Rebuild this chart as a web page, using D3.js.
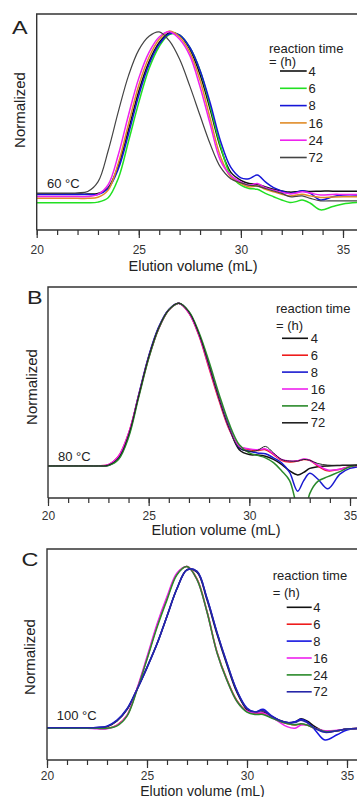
<!DOCTYPE html>
<html><head><meta charset="utf-8">
<script src="https://cdn.jsdelivr.net/npm/d3@7"></script>
<style>
body{margin:0;background:#fff;}
svg{display:block;}
text{font-family:"Liberation Sans",Arial,sans-serif;fill:#222;}
</style>
</head><body>
<svg id="chart" width="357" height="797"></svg>
<script>
// ---------- DATA ----------
const volumes = [20, 21, 22, 22.5, 23, 23.5, 24, 24.5, 25, 25.5, 26, 26.5, 27, 27.5, 28, 28.5, 29, 29.5, 30, 30.4, 30.8, 31.2, 31.6, 32, 32.4, 32.7, 33, 33.4, 33.9, 34.5, 35, 35.8];
const seriesLabels = ["4", "6", "8", "16", "24", "72"];
const tickLabels = [20, 25, 30, 35];
const panelLetters = ["A", "B", "C"];
const temperatures = ["60 °C", "80 °C", "100 °C"];

// Panel A (60 °C)
const a4  = [0.006,0.006,0.006,0.006,0.01,0.045,0.18,0.40,0.633,0.812,0.93,0.99,0.975,0.89,0.735,0.52,0.29,0.14,0.09,0.07,0.065,0.05,0.035,0.025,0.018,0.02,0.025,0.022,0.024,0.024,0.024,0.024];
const a6  = [-0.047,-0.047,-0.047,-0.047,-0.043,-0.016,0.103,0.33,0.565,0.77,0.906,0.979,0.975,0.90,0.76,0.54,0.30,0.12,0.06,0.04,0.035,0.01,-0.01,-0.03,-0.045,-0.04,-0.03,-0.05,-0.09,-0.07,-0.055,-0.045];
const a8  = [0.003,0.003,0.003,0.003,0.004,0.04,0.16,0.374,0.608,0.796,0.92,0.984,0.975,0.90,0.76,0.56,0.33,0.17,0.105,0.10,0.122,0.08,0.045,0.025,0.01,0.015,0.026,0.01,-0.03,-0.01,0.0,0.0];
const a16 = [-0.02,-0.02,-0.02,-0.02,-0.013,0.03,0.195,0.435,0.67,0.84,0.95,1.0,0.964,0.87,0.70,0.465,0.235,0.11,0.07,0.05,0.055,0.035,0.02,0.005,-0.005,0.0,0.005,-0.005,-0.015,-0.012,-0.01,-0.01];
const a24 = [-0.009,-0.009,-0.009,-0.009,0.004,0.063,0.247,0.49,0.713,0.87,0.964,0.996,0.95,0.85,0.66,0.43,0.21,0.12,0.08,0.06,0.07,0.045,0.03,0.015,0.008,0.012,0.02,0.012,0.0,0.004,0.004,0.004];
const a72 = [0.012,0.012,0.014,0.022,0.08,0.27,0.51,0.73,0.885,0.968,0.995,0.94,0.828,0.664,0.485,0.31,0.17,0.10,0.075,0.06,0.055,0.04,0.025,0.01,-0.01,-0.008,-0.005,-0.02,-0.035,-0.035,-0.035,-0.035];

// Panel B (80 °C)
const b4  = [0,0,0,0,0.004,0.05,0.19,0.43,0.67,0.85,0.96,1.0,0.945,0.81,0.62,0.415,0.235,0.10,0.07,0.068,0.06,0.04,0.01,-0.03,-0.055,-0.04,-0.015,-0.005,0.0,0.003,0.005,0.005];
const b6  = [0,0,0,0,0.008,0.06,0.2,0.43,0.665,0.845,0.958,1.0,0.94,0.80,0.60,0.40,0.225,0.12,0.10,0.095,0.10,0.07,0.035,0.025,0.03,0.04,0.035,0.0,-0.03,-0.02,-0.005,0.0];
const b8  = [0,0,0,0,0.004,0.045,0.185,0.435,0.675,0.855,0.962,1.0,0.945,0.81,0.62,0.42,0.24,0.11,0.09,0.08,0.075,0.05,0.02,-0.04,-0.155,-0.09,-0.045,-0.08,-0.14,-0.05,-0.015,0.0];
const b16 = [0,0,0,0,0.008,0.06,0.2,0.43,0.665,0.845,0.958,1.0,0.942,0.805,0.61,0.41,0.23,0.12,0.105,0.10,0.105,0.075,0.04,0.03,0.032,0.042,0.035,0.005,-0.025,-0.02,-0.005,0.002];
const b24 = [0,0,0,0,0.003,0.04,0.175,0.42,0.66,0.845,0.958,1.0,0.95,0.82,0.64,0.44,0.26,0.13,0.08,0.065,0.05,0.02,-0.03,-0.09,-0.26,-0.32,-0.17,-0.095,-0.066,-0.035,-0.005,0.006];
const b72 = [0,0,0,0,0.005,0.05,0.19,0.43,0.67,0.85,0.96,1.0,0.945,0.81,0.615,0.41,0.23,0.11,0.09,0.095,0.12,0.08,0.04,0.03,0.03,0.04,0.035,0.015,0.005,0.003,0.003,0.003];

// Panel C (100 °C)
const c4  = [0,0,0,0.003,0.01,0.045,0.115,0.24,0.375,0.52,0.69,0.86,0.975,0.96,0.79,0.58,0.39,0.22,0.115,0.095,0.10,0.075,0.05,0.035,0.04,0.058,0.045,0.01,-0.02,-0.015,-0.005,0.0];
const c6  = [0,0,0,0,0.0,0.02,0.08,0.24,0.43,0.63,0.80,0.95,0.995,0.92,0.72,0.47,0.30,0.17,0.105,0.092,0.092,0.07,0.045,0.03,0.02,0.025,0.02,0.0,-0.02,-0.015,-0.005,0.0];
const c8  = [0.003,0.003,0.003,0.005,0.013,0.05,0.12,0.24,0.375,0.52,0.69,0.86,0.975,0.965,0.80,0.59,0.40,0.23,0.125,0.10,0.117,0.08,0.05,0.035,0.04,0.055,0.04,-0.01,-0.072,-0.04,-0.01,0.0];
const c16 = [0,0,0,-0.003,-0.003,0.018,0.08,0.245,0.44,0.64,0.81,0.955,0.995,0.915,0.715,0.465,0.295,0.165,0.105,0.095,0.095,0.07,0.04,0.01,0.0,0.02,0.02,0.0,-0.015,-0.012,-0.005,0.0];
const c24 = [0,0,0,0,0.0,0.015,0.075,0.235,0.425,0.62,0.79,0.945,0.995,0.915,0.715,0.465,0.295,0.165,0.10,0.085,0.085,0.065,0.045,0.03,0.022,0.028,0.02,0.0,-0.02,-0.015,-0.005,0.0];
const c72 = [0.003,0.003,0.003,0.005,0.012,0.048,0.118,0.238,0.372,0.518,0.69,0.86,0.975,0.965,0.80,0.59,0.40,0.23,0.12,0.10,0.11,0.075,0.05,0.035,0.035,0.05,0.035,0.0,-0.025,-0.015,-0.005,0.0];

const colorsA = ["#111111", "#22e022", "#1515d8", "#e08c28", "#ee22ee", "#444444"];
const colorsB = ["#111111", "#ee1c1c", "#1a1ad0", "#ee22ee", "#2a8a2a", "#222222"];
const colorsC = ["#111111", "#ee1c1c", "#1515e0", "#ee22ee", "#2a8a2a", "#2626a8"];

// ---------- LAYOUT ----------
const layouts = [
  {x0:36.7, x35:343, top:14, bottom:230, yDom:[-0.213,1.104], letterX:12, letterY:33.5,
   ylabX:25, ylabY:110, tempX:47, tempY:188, legX:269, legT1:52.5, legT2:66,
   row0:71, rowStep:17.3, lx1:280, lx2:306.7, tx:308.5, tickPad:7, xlabX:193, xlabY:270.5, xlabSize:14.5},
  {x0:48, x35:350, top:287, bottom:498, yDom:[-0.197,1.10], letterX:27, letterY:303.5,
   ylabX:37, ylabY:387, tempX:58, tempY:461, legX:276, legT1:313, legT2:329.5,
   row0:338.3, rowStep:16.9, lx1:282, lx2:308, tx:310.7, tickPad:5, xlabX:216, xlabY:534.5, xlabSize:14.5},
  {x0:47, x35:347, top:549, bottom:760, yDom:[-0.195,1.103], letterX:21.5, letterY:565.5,
   ylabX:35, ylabY:657, tempX:56.7, tempY:720, legX:272.7, legT1:580, legT2:597,
   row0:607.3, rowStep:16.9, lx1:286.7, lx2:311.7, tx:313.3, tickPad:3, xlabX:202.5, xlabY:795.5, xlabSize:14}
];

const panels = [
  {series:[a4,a6,a8,a16,a24,a72], colors:colorsA, widths:[1.5,1.5,1.5,1.5,1.5,1.2]},
  {series:[b4,b6,b8,b16,b24,b72], colors:colorsB, widths:[1.5,1.5,1.5,1.5,1.5,1.0]},
  {series:[c4,c6,c8,c16,c24,c72], colors:colorsC, widths:[1.5,1.5,1.5,1.5,1.5,1.5]}
];

const svg = d3.select("#chart");

panels.forEach((p, pi) => {
  const L = layouts[pi];
  const x = d3.scaleLinear().domain([20, 35]).range([L.x0, L.x35]);
  const y = d3.scaleLinear().domain(L.yDom).range([L.bottom, L.top]);
  const g = svg.append("g");
  const clipId = "clip" + pi;
  g.append("clipPath").attr("id", clipId).append("rect")
    .attr("x", L.x0).attr("y", L.top).attr("width", 400).attr("height", L.bottom - L.top);

  const line = d3.line()
    .x((d, i) => x(volumes[i]))
    .y(d => y(d))
    .curve(d3.curveCatmullRom.alpha(0.5));

  g.append("g").attr("clip-path", `url(#${clipId})`)
    .selectAll("path").data(p.series).join("path")
    .attr("d", line)
    .attr("fill", "none")
    .attr("stroke", (d, i) => p.colors[i])
    .attr("stroke-width", (d, i) => p.widths[i])
    .attr("stroke-linejoin", "round");

  // frame
  g.append("path")
    .attr("d", `M${L.x0},${L.bottom}V${L.top}H362M${L.x0},${L.bottom}H362`)
    .attr("fill", "none").attr("stroke", "#333").attr("stroke-width", 1.4);

  // minor ticks
  g.append("g").attr("transform", `translate(0,${L.bottom})`)
    .style("color", "#333")
    .call(d3.axisBottom(x).tickValues(d3.range(20, 36)).tickSize(5).tickFormat("").tickSizeOuter(0))
    .call(s => s.select(".domain").remove())
    .call(s => s.selectAll("line").attr("stroke-width", 1.2));
  // major ticks + labels
  g.append("g").attr("transform", `translate(0,${L.bottom})`)
    .style("color", "#333")
    .call(d3.axisBottom(x).tickValues(tickLabels).tickSize(8).tickPadding(L.tickPad).tickSizeOuter(0))
    .call(s => s.select(".domain").remove())
    .call(s => s.selectAll("line").attr("stroke-width", 1.2))
    .call(s => s.selectAll("text").attr("font-size", 12).style("fill", "#333"));

  // axis titles
  g.append("text").attr("x", L.xlabX).attr("y", L.xlabY).attr("text-anchor", "middle")
    .attr("font-size", L.xlabSize).text("Elution volume (mL)");
  g.append("text").attr("transform", `translate(${L.ylabX},${L.ylabY}) rotate(-90)`)
    .attr("text-anchor", "middle").attr("font-size", 15).text("Normalized");

  // panel letter
  g.append("text").attr("transform", `translate(${L.letterX},${L.letterY}) scale(1.3,1)`)
    .attr("font-size", 18).text(panelLetters[pi]);

  // temperature
  g.append("text").attr("x", L.tempX).attr("y", L.tempY).attr("font-size", 13).text(temperatures[pi]);

  // legend
  g.append("text").attr("x", L.legX).attr("y", L.legT1).attr("font-size", 13).text("reaction time");
  g.append("text").attr("x", L.legX).attr("y", L.legT2).attr("font-size", 13).text("= (h)");
  const rows = g.selectAll("g.leg").data(seriesLabels).join("g").attr("class", "leg")
    .attr("transform", (d, i) => `translate(0,${L.row0 + i * L.rowStep})`);
  rows.append("line").attr("x1", L.lx1).attr("x2", L.lx2)
    .attr("stroke", (d, i) => p.colors[i]).attr("stroke-width", 1.6);
  rows.append("text").attr("x", L.tx).attr("dy", "0.36em").attr("font-size", 13).text(d => d);
});
</script>
</body></html>
